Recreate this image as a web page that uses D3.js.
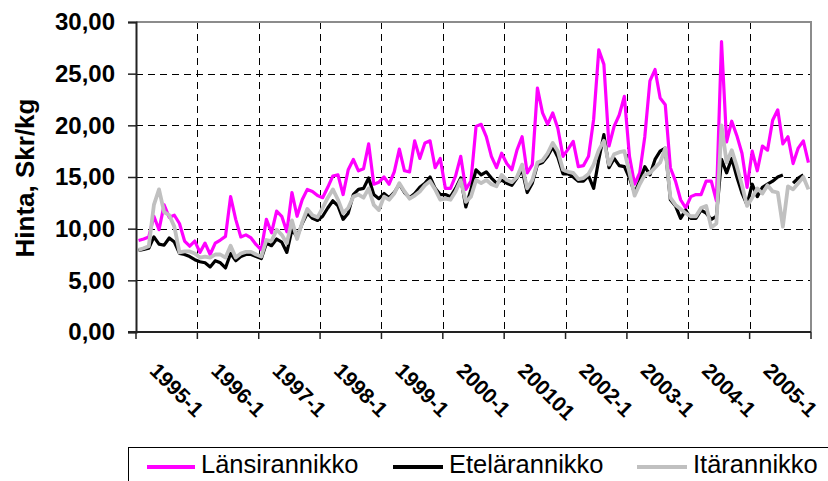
<!DOCTYPE html>
<html>
<head>
<meta charset="utf-8">
<script src="https://cdn.jsdelivr.net/npm/d3@7"></script>
<style>
  body { margin: 0; background: #fff; }
  svg { display: block; }
  text { font-family: "Liberation Sans", Arial, sans-serif; }
</style>
</head>
<body>
<svg width="828" height="481"></svg>
<script>
// categories: one per month, 1995-1 .. 2005-12
const years = [1995, 1996, 1997, 1998, 1999, 2000, 2001, 2002, 2003, 2004, 2005]
const months = years.flatMap((y) => d3.range(1, 13).map((m) => y + '-' + m))

// label shown every 12th category (the original really says 200101)
const tickLabels = ['1995-1', '1996-1', '1997-1', '1998-1', '1999-1', '2000-1',
  '200101', '2002-1', '2003-1', '2004-1', '2005-1']
const yTicks = [0, 5, 10, 15, 20, 25, 30]

const seriesNames = ['Länsirannikko', 'Etelärannikko', 'Itärannikko']

const lansi = [
  8.85, 9.0, 9.2, 11.2, 9.9, 12.3, 11.1, 11.3, 10.5, 8.8, 8.3, 8.8,
  7.7, 8.6, 7.5, 8.6, 8.9, 9.25, 13.1, 10.9, 9.2, 9.4, 9.1, 8.45,
  7.95, 10.9, 9.6, 11.7, 11.2, 9.7, 13.5, 11.2, 12.8, 13.8, 13.6, 13.2,
  13.0, 14.0, 15.1, 15.2, 13.3, 15.7, 16.7, 15.6, 15.8, 18.2, 14.3, 14.5,
  15.0, 14.3, 15.5, 17.7, 15.6, 15.5, 18.5, 16.8, 18.3, 18.5, 15.9, 16.8,
  13.9, 13.9, 15.1, 17.0, 13.8, 14.6, 19.9, 20.1, 18.9, 17.0, 15.9, 17.3,
  16.3, 15.7, 17.6, 18.9, 15.4, 16.2, 23.6, 21.2, 20.1, 21.2, 19.7, 17.0,
  17.7, 18.45, 16.0, 16.1, 17.0, 20.6, 27.3, 25.9, 18.0, 19.9, 21.0, 22.8,
  17.0, 14.3, 15.4, 18.9, 24.3, 25.4, 22.65, 22.0, 15.9, 14.6, 12.8, 12.0,
  13.1, 13.3, 13.3, 14.6, 14.6, 12.7, 28.1, 18.4, 20.4, 19.0, 17.3, 14.0,
  17.5, 15.6, 18.0, 17.6, 20.5, 21.5, 18.2, 18.9, 16.3, 17.8, 18.5, 16.4
]

const etela = [
  7.9, 8.0, 8.1, 9.2, 8.5, 8.4, 9.1, 8.7, 7.6, 7.5, 7.3, 7.0,
  6.8, 6.7, 6.3, 6.9, 6.7, 6.2, 7.6, 6.9, 7.3, 7.5, 7.5, 7.3,
  7.1, 8.6, 8.35, 9.0, 8.7, 7.7, 9.9, 9.2, 10.5, 11.5, 11.0, 10.8,
  11.2, 12.0, 12.7, 12.2, 10.9, 11.5, 13.3, 13.8, 13.9, 14.9, 13.3, 12.9,
  13.4, 13.0, 13.5, 14.3, 13.5, 13.0, 13.4, 14.0, 14.4, 15.0, 13.9, 13.3,
  13.3, 13.1, 13.9, 14.9, 12.1, 13.8, 15.7, 15.2, 15.5, 14.9, 14.4, 14.7,
  14.4, 14.2, 14.9, 15.7, 13.5, 14.4, 16.2, 16.4, 17.0, 17.9, 16.9, 15.3,
  15.3, 15.0, 14.6, 14.6, 15.1, 13.9, 16.7, 19.1, 15.9, 16.8, 16.1, 16.0,
  14.9, 13.45, 14.6, 16.0, 15.2, 16.7, 17.5, 17.8, 12.8, 12.2, 11.0, 11.8,
  11.0, 11.0, 11.8, 11.5, 10.9, 11.2, 16.7, 15.4, 16.8, 15.0, 13.45, 12.3,
  14.3, 13.1, 14.0, 14.3, 14.6, 15.0, 15.2, null, 14.4, 14.9, 15.2, null
]

const ita = [
  7.95, 8.1, 8.3, 12.3, 13.8, 11.6, 11.3, 10.2, 7.7, 7.8, 7.8, 7.6,
  7.2, 7.3, 7.2, 7.5, 7.5, 7.2, 8.35, 7.2, 7.6, 7.75, 7.75, 7.5,
  7.3, 8.9, 8.8, 9.9, 9.4, 8.6, 10.8, 9.0, 10.6, 11.9, 11.3, 11.1,
  12.0, 13.0, 13.8, 12.8, 11.5, 12.0, 13.1, 13.3, 13.0, 13.9, 12.3, 11.8,
  13.1, 12.8, 13.4, 14.4, 13.6, 12.9, 13.2, 13.6, 14.2, 14.6, 13.8, 12.8,
  12.9, 12.8, 13.6, 14.7, 12.6, 13.1, 14.7, 14.4, 14.7, 14.3, 14.1, 15.2,
  14.7, 14.5, 15.0, 16.2, 13.9, 14.7, 16.4, 16.6, 17.3, 18.3, 17.5, 15.7,
  15.5, 15.4, 14.8, 14.9, 15.3, 16.2, 17.6, 18.5, 16.2, 17.2, 17.4, 17.5,
  15.4, 13.2, 14.3, 15.2, 15.4, 15.9, 16.4, 17.8, 13.0, 12.3, 11.9, 11.5,
  11.2, 11.2, 12.0, 12.2, 10.1, 10.5, 20.0, 16.4, 17.6, 16.0, 14.2, 12.2,
  13.0, 13.9, 13.4, 14.2, 13.6, 13.5, 10.2, 14.1, 13.8, 14.4, 15.0, 13.8
]

const series = [
  { name: seriesNames[0], values: lansi, color: '#ff00ff', width: 3.2 },
  { name: seriesNames[1], values: etela, color: '#000000', width: 3.2 },
  { name: seriesNames[2], values: ita, color: '#c0c0c0', width: 3.8 }
]

const plot = { left: 136, right: 811, top: 22, bottom: 332 }

const svg = d3.select('svg')
const scales = setScales()
drawGrid(scales)
drawSeries(scales)
drawFrame()
drawYAxis(scales)
drawXAxis(scales)
drawLegend()

function setScales () {
  const x = d3.scaleBand()
    .domain(months)
    .range([plot.left, plot.right])
  const y = d3.scaleLinear()
    .domain([0, 30])
    .range([plot.bottom, plot.top])
  return { x, y }
}

function midX (x, m) {
  return x(m) + x.bandwidth() / 2
}

function drawGrid ({ x, y }) {
  const g = svg.append('g')
    .attr('stroke', '#000')
    .attr('stroke-width', 1)
    .attr('stroke-dasharray', '7,5')

  g.selectAll('line.h')
    .data(yTicks.filter((v) => v > 0 && v < 30))
    .enter().append('line')
      .attr('x1', plot.left).attr('x2', plot.right)
      .attr('y1', (d) => Math.round(y(d)) + 0.5)
      .attr('y2', (d) => Math.round(y(d)) + 0.5)

  const bounds = d3.range(12, months.length, 12) // year boundaries
  g.selectAll('line.v')
    .data(bounds)
    .enter().append('line')
      .attr('x1', (i) => Math.round(x(months[i])) + 0.5)
      .attr('x2', (i) => Math.round(x(months[i])) + 0.5)
      .attr('y1', plot.top).attr('y2', plot.bottom)
}

function drawSeries ({ x, y }) {
  const line = d3.line()
    .defined((d) => d.v != null)
    .x((d) => midX(x, d.m))
    .y((d) => y(d.v))

  series.forEach((s) => {
    svg.append('path')
      .datum(s.values.map((v, i) => ({ m: months[i], v })))
      .attr('fill', 'none')
      .attr('stroke', s.color)
      .attr('stroke-width', s.width)
      .attr('stroke-linejoin', 'round')
      .attr('d', line)
  })
}

function drawFrame () {
  // top and right border of plot area in grey
  svg.append('path')
    .attr('d', `M${plot.left},${plot.top}H${plot.right}V${plot.bottom}`)
    .attr('fill', 'none')
    .attr('stroke', '#8c8c8c')
    .attr('stroke-width', 2)
}

function drawYAxis ({ y }) {
  const fmt = d3.formatLocale({ decimal: ',', thousands: ' ', grouping: [3], currency: ['', ''] }).format('.2f')
  const axis = svg.append('g')
    .attr('transform', `translate(${plot.left},0)`)
    .call(d3.axisLeft(y).tickValues(yTicks).tickFormat(fmt).tickSize(8).tickPadding(13))

  axis.select('.domain').attr('stroke', '#222').attr('stroke-width', 2)
  axis.selectAll('.tick line').attr('stroke', '#222').attr('stroke-width', 1.5)
  axis.selectAll('.tick text')
    .attr('font-family', '"Liberation Sans", Arial, sans-serif')
    .attr('font-size', 24)
    .attr('font-weight', 'bold')
    .attr('fill', '#000')

  svg.append('text')
    .attr('transform', 'translate(34,178) rotate(-90)')
    .attr('text-anchor', 'middle')
    .attr('font-size', 26)
    .attr('font-weight', 'bold')
    .text('Hinta, Skr/kg')
}

function drawXAxis ({ x }) {
  const g = svg.append('g')

  g.append('line')
    .attr('x1', plot.left - 8).attr('x2', plot.right)
    .attr('y1', plot.bottom).attr('y2', plot.bottom)
    .attr('stroke', '#222').attr('stroke-width', 2)

  const bounds = d3.range(0, months.length + 1, 12)
  g.selectAll('line.tick')
    .data(bounds)
    .enter().append('line')
      .attr('x1', (i) => i < months.length ? x(months[i]) : plot.right)
      .attr('x2', (i) => i < months.length ? x(months[i]) : plot.right)
      .attr('y1', plot.bottom).attr('y2', plot.bottom + 7)
      .attr('stroke', '#222').attr('stroke-width', 1.5)

  g.selectAll('text')
    .data(tickLabels)
    .enter().append('text')
      .attr('transform', (d, k) => `translate(${midX(x, months[k * 12]) + 10},372) rotate(45)`)
      .attr('font-size', 21)
      .attr('font-weight', 'bold')
      .text((d) => d)
}

function drawLegend () {
  const g = svg.append('g')
  g.append('rect')
    .attr('x', 128.5).attr('y', 447.5)
    .attr('width', 720).attr('height', 50)
    .attr('fill', '#fff')
    .attr('stroke', '#000')
    .attr('stroke-width', 1)

  const items = [{ x1: 147, x2: 195, tx: 201 }, { x1: 393, x2: 443, tx: 449 }, { x1: 637, x2: 687, tx: 693 }]
  series.forEach((s, i) => {
    g.append('line')
      .attr('x1', items[i].x1).attr('x2', items[i].x2)
      .attr('y1', 467).attr('y2', 467)
      .attr('stroke', s.color)
      .attr('stroke-width', 4)
    g.append('text')
      .attr('x', items[i].tx).attr('y', 473)
      .attr('font-size', 25.5)
      .text(s.name)
  })
}
</script>
</body>
</html>
